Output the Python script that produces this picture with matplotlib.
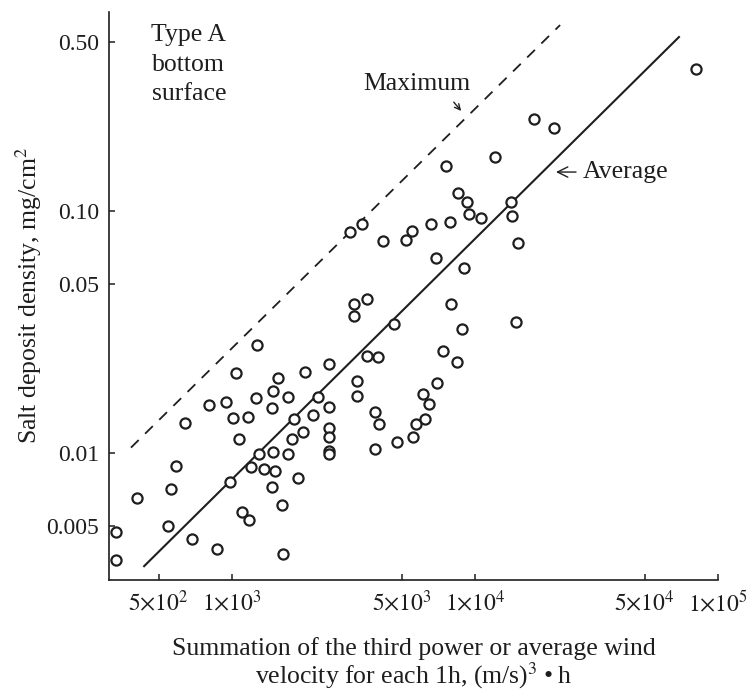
import matplotlib
matplotlib.use('Agg')
import matplotlib.pyplot as plt
from matplotlib.ticker import FixedLocator, FixedFormatter, NullLocator

plt.rcParams['font.family'] = ['Liberation Serif', 'DejaVu Serif']
plt.rcParams['mathtext.fontset'] = 'stix'

wind_sum = [333, 333, 405, 545, 561, 588, 641, 684, 804, 868,
            945, 981, 1009, 1039, 1069, 1100, 1164, 1175, 1197, 1256,
            1268, 1291, 1354, 1461, 1475, 1475, 1461, 1503, 1546, 1606,
            1621, 1700, 1700, 1766, 1799, 1869, 1960, 1998, 2154, 2259,
            2507, 2507, 2507, 2507, 2507, 2507, 3059, 3178, 3178, 3268,
            3268, 3428, 3594, 3594, 3877, 3877, 3990, 4027, 4182, 4642,
            4775, 5200, 5506, 5559, 5719, 6109, 6228, 6467, 6590, 6911,
            6976, 7385, 7598, 7892, 7966, 8511, 8841, 8432, 9010, 9271,
            9447, 10585, 12085, 14070, 14205, 15031, 14750, 17490, 21140, 81200]
salt_density = [0.0047, 0.0036, 0.0065, 0.0050, 0.0071, 0.0088, 0.0133, 0.0044, 0.0157, 0.0040,
                0.0162, 0.0076, 0.0139, 0.0214, 0.0114, 0.0057, 0.0140, 0.0053, 0.0087, 0.0168,
                0.0279, 0.0099, 0.0086, 0.0153, 0.0180, 0.0101, 0.0072, 0.0084, 0.0204, 0.0061,
                0.0038, 0.0170, 0.0099, 0.0114, 0.0138, 0.0079, 0.0122, 0.0216, 0.0143, 0.0170,
                0.0233, 0.0154, 0.0127, 0.0116, 0.0102, 0.0099, 0.0817, 0.0412, 0.0367, 0.0198,
                0.0172, 0.0881, 0.0432, 0.0251, 0.0147, 0.0104, 0.0249, 0.0131, 0.0749, 0.0340,
                0.0111, 0.0757, 0.0825, 0.0116, 0.0131, 0.0175, 0.0138, 0.0159, 0.0881, 0.0637,
                0.0194, 0.0263, 0.153, 0.0898, 0.0412, 0.118, 0.0325, 0.0237, 0.0580, 0.109,
                0.0969, 0.0933, 0.167, 0.109, 0.0951, 0.0735, 0.0347, 0.239, 0.220, 0.385]

# fitted lines
avg_x = [435, 69100]
avg_y = [0.0034, 0.522]
max_x = [384, 22400]
max_y = [0.0105, 0.585]

x_ticks = [5e2, 1e3, 5e3, 1e4, 5e4, 1e5]
x_labels = [r'$5{\times}10^2$', r'$1{\times}10^3$', r'$5{\times}10^3$',
            r'$1{\times}10^4$', r'$5{\times}10^4$', r'$1{\times}10^5$']
y_ticks = [0.005, 0.01, 0.05, 0.1, 0.5]
y_labels = ['0.005', '0.01', '0.05', '0.10', '0.50']

ink = '#1e1e1e'
fs = 18.5

fig = plt.figure(figsize=(7.53, 6.91), dpi=100)
ax = fig.add_axes([0.1448, 0.1606, 0.8087, 0.8224])
ax.set_xscale('log')
ax.set_yscale('log')
ax.set_xlim(312, 1e5)
ax.set_ylim(0.00298, 0.664)

ax.plot(max_x, max_y, color=ink, lw=1.3, linestyle=(0, (6, 5)))
ax.plot(avg_x, avg_y, color=ink, lw=1.5)
ax.plot(wind_sum, salt_density, 'o', ms=7.3, mfc='white', mec=ink, mew=1.6,
        clip_on=False, zorder=3)

# ticks
ax.xaxis.set_major_locator(FixedLocator(x_ticks))
ax.xaxis.set_major_formatter(FixedFormatter(x_labels))
ax.yaxis.set_major_locator(FixedLocator(y_ticks))
ax.yaxis.set_major_formatter(FixedFormatter(y_labels))
ax.xaxis.set_minor_locator(NullLocator())
ax.yaxis.set_minor_locator(NullLocator())
ax.tick_params(direction='in', length=4, width=1.1, labelsize=17, pad=7, colors=ink)

for s in ['top', 'right']:
    ax.spines[s].set_visible(False)
for s in ['left', 'bottom']:
    ax.spines[s].set_linewidth(1.2)
    ax.spines[s].set_color(ink)

ax.set_ylabel('Salt deposit density, mg/cm$^2$', fontsize=fs, color=ink, labelpad=2)
ax.set_xlabel('Summation of the third power or average wind\nvelocity for each 1h, (m/s)$^3$\u2009\u2022\u2009h',
              fontsize=fs, color=ink, labelpad=15, linespacing=1.05)

# annotations
ax.text(665, 0.59, 'Type A\nbottom\nsurface', fontsize=fs, ha='center', va='top',
        linespacing=1.45, color=ink)
ax.text(5770, 0.335, 'Maximum', fontsize=fs, ha='center', va='center', color=ink)
ax.annotate('', xy=(8925, 0.2533), xytext=(8041, 0.2867),
            arrowprops=dict(arrowstyle='->', color=ink, lw=1.0))
ax.annotate('Average', xy=(21544, 0.1445), xytext=(27820, 0.1445),
            fontsize=fs, va='center', ha='left', color=ink,
            arrowprops=dict(arrowstyle='->', color=ink, lw=1.0, shrinkA=3, shrinkB=0))

fig.savefig('out.png', dpi=100)
